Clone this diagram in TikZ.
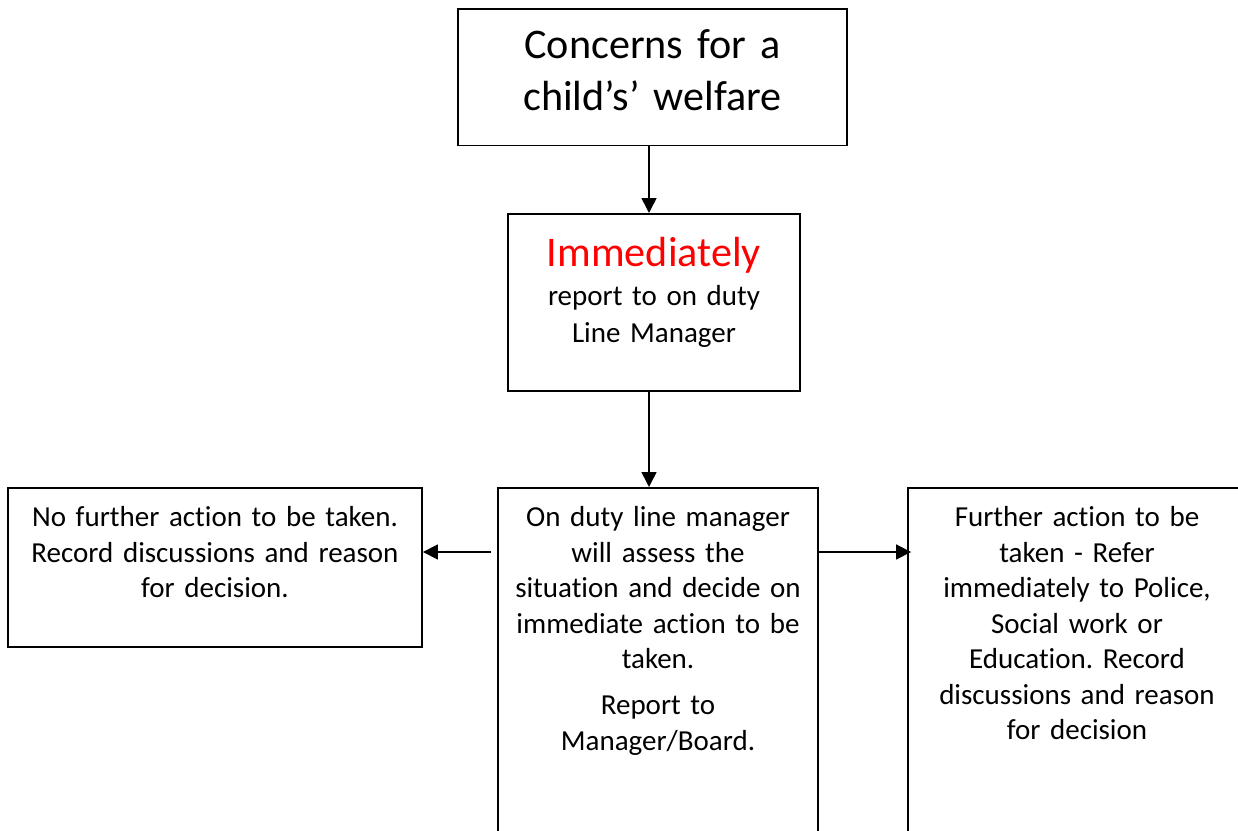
\documentclass[tikz,border=0pt]{standalone}
\usepackage{fontspec}
\setmainfont{Carlito}[Ligatures=NoCommon,WordSpace=0.85]
\usetikzlibrary{arrows.meta}
\newcommand{\bodysize}{\fontsize{16.5}{20.2}\selectfont}
\newcommand{\bigsize}{\fontsize{24}{29.5}\selectfont}
\frenchspacing
\tikzset{
	box/.style={rectangle,draw,line width=1.1pt,align=center,inner xsep=0pt,inner ysep=0pt,anchor=north,font=\bodysize},
	link/.style={-{Triangle[length=8.5pt,width=8.5pt]},line width=0.9pt},
}
\begin{document}
\begin{tikzpicture}[x=0.02cm,y=-0.02cm]
		\useasboundingbox (0,0) rectangle (1238,831);
		\clip (0,0) rectangle (1238,831);
		\node [box,font=\bigsize,text width=7.78cm,text height=28.3pt,text depth=49.4pt] (concern) at (652.5,8) {Concerns for a\\child’s’ welfare};
		\node [box,text width=5.84cm,text height=30pt,text depth=70.9pt] (report) at (654,213) {{\bigsize\color{red}Immediately}\\[2pt]report to on duty\\[1pt]Line Manager};
		\node [box,text width=6.4cm,text height=22.1pt,text depth=300pt] (assess) at (658,487) {On duty line manager\\will assess the\\situation and decide on\\immediate action to be\\taken.\\[6pt]Report to\\Manager/Board.};
		\node [box,text width=8.28cm,text height=22.1pt,text depth=68.6pt] (noaction) at (215,487) {No further action to be taken.\\Record discussions and reason\\for decision.};
		\node [box,text width=6.76cm,text height=22.1pt,text depth=300pt] (action) at (1077,487) {Further action to be\\taken - Refer\\immediately to Police,\\Social work or\\Education. Record\\discussions and reason\\for decision};
%		arrows
		\draw [link] ([xshift=-0.07cm]concern.south) -- ([xshift=-0.07cm]concern.south |- report.north);
		\draw [link] ([xshift=-0.1cm]report.south) -- ([xshift=-0.1cm]report.south |- assess.north);
		\coordinate (lout) at ([xshift=-0.12cm,yshift=-1.3cm]assess.north west);
		\coordinate (rout) at ([yshift=-1.3cm]assess.north east);
		\draw [link] (lout) -- (lout -| noaction.east);
		\draw [link] (rout) -- ([xshift=0.08cm]rout -| action.west);
	\end{tikzpicture}
\end{document}
